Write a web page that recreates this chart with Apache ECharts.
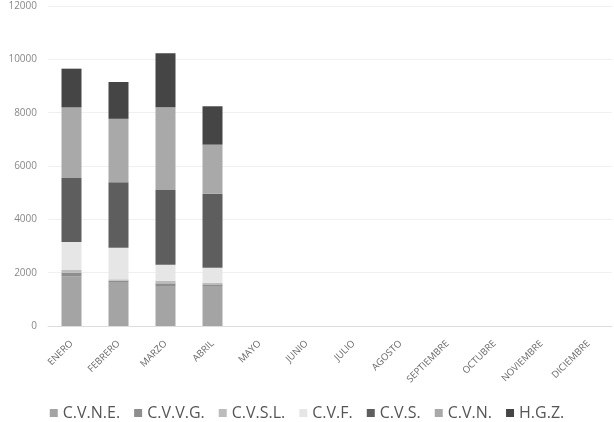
<!DOCTYPE html>
<html>
<head>
<meta charset="utf-8">
<script src="https://cdn.jsdelivr.net/npm/echarts@6/dist/echarts.min.js"></script>
<style>
  html, body { margin: 0; padding: 0; background: #fff; }
  #chart { width: 614px; height: 422px; }
</style>
</head>
<body>
<div id="chart"></div>
<script>
const months = ['ENERO', 'FEBRERO', 'MARZO', 'ABRIL', 'MAYO', 'JUNIO', 'JULIO', 'AGOSTO', 'SEPTIEMBRE', 'OCTUBRE', 'NOVIEMBRE', 'DICIEMBRE']
const seriesNames = ['C.V.N.E.', 'C.V.V.G.', 'C.V.S.L.', 'C.V.F.', 'C.V.S.', 'C.V.N.', 'H.G.Z.']
const cvne = [1850, 1650, 1500, 1500]
const cvvg = [150, 50, 100, 60]
const cvsl = [100, 50, 100, 60]
const cvf = [1050, 1180, 600, 560]
const cvs = [2400, 2460, 2800, 2780]
const cvn = [2650, 2380, 3100, 1840]
const hgz = [1450, 1380, 2030, 1440]
const colors = ['#a4a4a4', '#8e8e8e', '#bcbcbc', '#e6e6e6', '#5e5e5e', '#a9a9a9', '#454545']

const data = [cvne, cvvg, cvsl, cvf, cvs, cvn, hgz]

const chart = echarts.init(document.getElementById('chart'))
chart.setOption({
  animation: false,
  color: colors,
  grid: { left: 48, right: 2, top: 6, bottom: 96 },
  legend: {
    top: 400,
    left: 'center',
    itemWidth: 8,
    itemHeight: 8,
    itemGap: 14,
    itemTextGap: 4,
    icon: 'rect',
    textStyle: { fontFamily: 'Open Sans', fontSize: 16, color: '#555' },
    data: seriesNames
  },
  xAxis: {
    type: 'category',
    data: months,
    axisLine: { lineStyle: { color: '#ddd' } },
    axisTick: { show: false },
    axisLabel: { rotate: 45, fontSize: 9.5, color: '#666', fontFamily: 'Open Sans', interval: 0, margin: 16 }
  },
  yAxis: {
    type: 'value',
    min: 0,
    max: 12000,
    interval: 2000,
    axisLine: { show: false },
    axisTick: { show: false },
    axisLabel: { fontSize: 10, color: '#888', fontFamily: 'Open Sans', margin: 11, formatter: v => String(v) },
    splitLine: { lineStyle: { color: '#f0f0f0' } }
  },
  series: data.map((item, index) => ({
    name: seriesNames[index],
    type: 'bar',
    stack: 'total',
    barWidth: 20,
    data: item
  }))
})
</script>
</body>
</html>
